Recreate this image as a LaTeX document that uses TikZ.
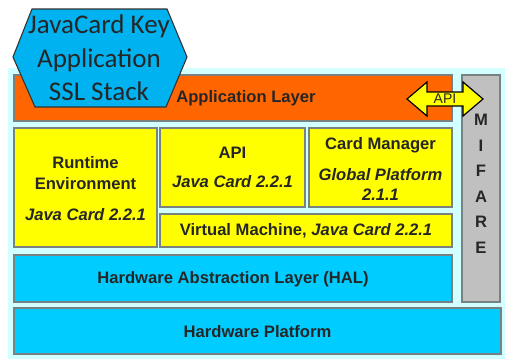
\documentclass[tikz,border=0pt]{standalone}
\usepackage{fontspec}
\setmainfont{Liberation Sans}
\newfontfamily\calib{Carlito}
\definecolor{bgcyan}{RGB}{210,255,255}
\definecolor{laycyan}{RGB}{0,204,255}
\definecolor{hexcyan}{RGB}{0,178,240}
\definecolor{layorange}{RGB}{255,102,0}
\definecolor{layyellow}{RGB}{255,255,0}
\definecolor{laygray}{RGB}{192,192,192}
\definecolor{edgegray}{RGB}{120,130,130}
\begin{document}
\begin{tikzpicture}[x=1pt,y=-1pt,
  box/.style={draw=edgegray,line width=1.2pt,inner sep=0pt,anchor=center},
  lbl/.style={font=\fontsize{16.6}{19}\selectfont\bfseries,inner sep=0pt,text=black!85},
  ilbl/.style={font=\fontsize{16.6}{19}\selectfont\bfseries\itshape,inner sep=0pt,text=black!85},
  hexlbl/.style={font=\calib\fontsize{27}{33.5}\selectfont,align=center,inner sep=0pt,text=black!85}]
\useasboundingbox (0,0) rectangle (505,360);
\node[fill=bgcyan,inner sep=0pt,minimum width=497pt,minimum height=291pt] (bg) at (256.5,213.5) {};
% layers
\node[box,fill=layorange,minimum width=438pt,minimum height=46pt] (app) at (233,98) {};
\node[box,fill=laygray,minimum width=38pt,minimum height=227pt] (mifare) at (481,188.5) {};
\node[box,fill=layyellow,minimum width=143pt,minimum height=119pt] (rte) at (85.5,187.5) {};
\node[box,fill=layyellow,minimum width=145pt,minimum height=79pt] (api) at (232.5,167.5) {};
\node[box,fill=layyellow,minimum width=143pt,minimum height=79pt] (cm) at (380.5,167.5) {};
\node[box,fill=layyellow,minimum width=292pt,minimum height=33pt] (vm) at (306,230.5) {};
\node[box,fill=laycyan,minimum width=438pt,minimum height=47pt] (hal) at (233,278.5) {};
\node[box,fill=laycyan,minimum width=487pt,minimum height=46pt] (hw) at (257.5,331) {};
% labels
\node[lbl] (appt) at (246,98) {Application Layer};
\node[lbl] (rte1) at (85.5,163) {Runtime};
\node[lbl] (rte2) at (85.5,184) {Environment};
\node[ilbl] (rte3) at (85.5,215) {Java Card 2.2.1};
\node[lbl] (api1) at (232.5,153) {API};
\node[ilbl] (api2) at (232.5,182) {Java Card 2.2.1};
\node[lbl] (cm1) at (380.5,145) {Card Manager};
\node[ilbl] (cm2) at (380.5,175) {Global Platform};
\node[ilbl] (cm3) at (380.5,195) {2.1.1};
\node[lbl] (vmt) at (306,231) {Virtual Machine, \itshape Java Card 2.2.1};
\node[lbl] (halt) at (233,279) {Hardware Abstraction Layer (HAL)};
\node[lbl] (hwt) at (257.5,332) {Hardware Platform};
\node[lbl] (m1) at (481,120) {M};
\node[lbl] (m2) at (481,145.5) {I};
\node[lbl] (m3) at (481,171) {F};
\node[lbl] (m4) at (481,196.5) {A};
\node[lbl] (m5) at (481,222) {R};
\node[lbl] (m6) at (481,247.5) {E};
% API double arrow
\draw[line width=1.2pt,fill=layyellow,line join=miter] (407,99) -- (427,82) -- (427,92) -- (463,92) -- (463,82) -- (483,99) -- (463,116) -- (463,106) -- (427,106) -- (427,116) -- cycle;
\node[font=\fontsize{14}{16}\selectfont,inner sep=0pt,text=black!85] (apiarrow) at (445,99) {API};
% hexagon
\draw[line width=1.1pt,draw=black!80,fill=hexcyan] (32,9) -- (167,9) -- (187,57) -- (166,107) -- (35,107) -- (13,57) -- cycle;
\node[hexlbl] (hext) at (99,58) {JavaCard Key\\Application\\SSL Stack};
\end{tikzpicture}
\end{document}
